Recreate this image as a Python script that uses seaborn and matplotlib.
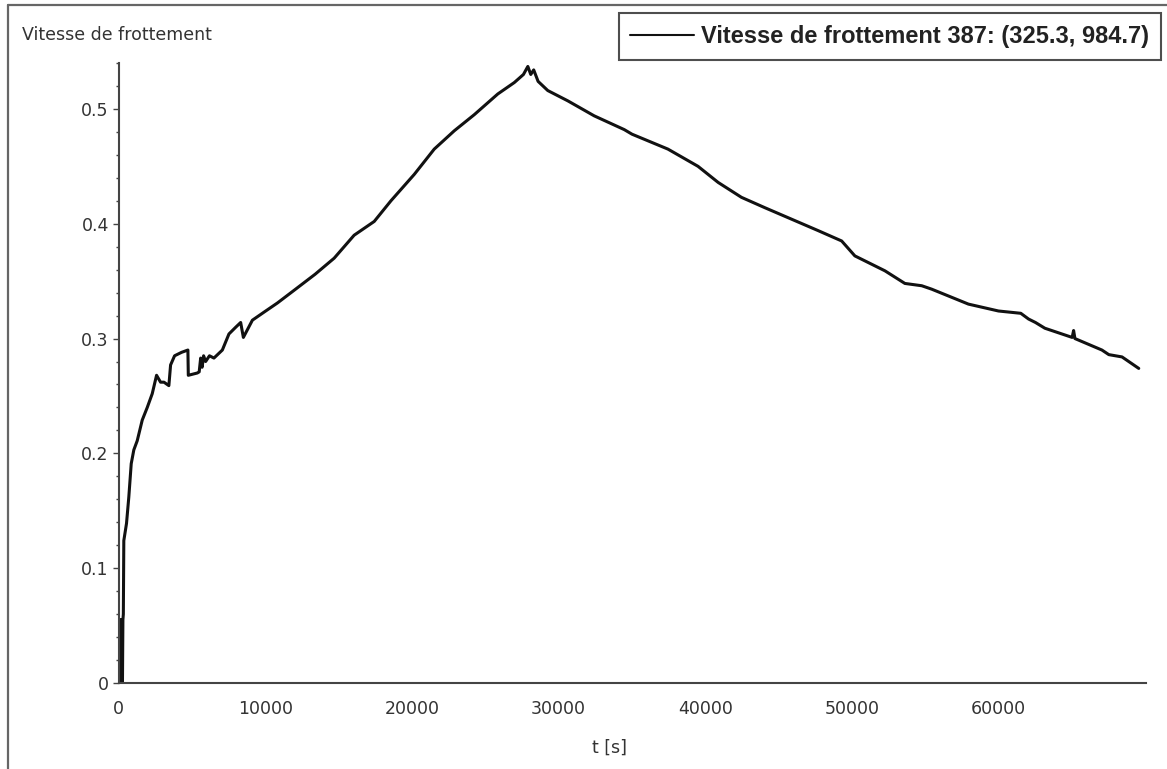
import matplotlib
matplotlib.use("Agg")
import matplotlib.pyplot as plt
from matplotlib.lines import Line2D
from matplotlib.ticker import MultipleLocator
import seaborn as sns
import pandas as pd

# ---- data ----
t_s = [0, 80, 110, 150, 190, 230, 270, 300, 330, 362, 546, 703, 867, 1044, 1276,
       1618, 1960, 2300, 2594, 2867, 3100, 3433, 3550, 3823, 4300, 4730, 4758,
       5372, 5500, 5600, 5700, 5800, 5938, 6200, 6505, 7078, 7528, 8000, 8327,
       8511, 9126, 9918, 10833, 11966, 13400, 14700, 16060, 17430, 18570, 20160,
       21520, 22890, 24250, 25850, 26980, 27600, 27900, 28100, 28300, 28600,
       29260, 30630, 32420, 34470, 35000, 37450, 39500, 40870, 42460, 44050,
       45870, 47690, 49290, 50190, 52240, 53600, 54750, 55430, 57930, 59980,
       61500, 62030, 62500, 63140, 65000, 65100, 65190, 67030, 67500, 68400,
       69540]
vitesse = [0.0, 0.055, 0.0, 0.055, 0.0, 0.055, 0.0, 0.055, 0.06, 0.124, 0.139,
           0.162, 0.191, 0.203, 0.211, 0.229, 0.240, 0.252, 0.268, 0.262, 0.262,
           0.259, 0.277, 0.285, 0.288, 0.290, 0.268, 0.270, 0.271, 0.283, 0.275,
           0.285, 0.280, 0.285, 0.283, 0.290, 0.304, 0.310, 0.314, 0.301, 0.316,
           0.323, 0.331, 0.342, 0.356, 0.370, 0.390, 0.402, 0.420, 0.443, 0.465,
           0.481, 0.495, 0.513, 0.523, 0.530, 0.537, 0.530, 0.534, 0.524, 0.516,
           0.507, 0.494, 0.482, 0.478, 0.465, 0.450, 0.436, 0.423, 0.414, 0.404,
           0.394, 0.385, 0.372, 0.359, 0.348, 0.346, 0.343, 0.330, 0.324, 0.322,
           0.317, 0.314, 0.309, 0.301, 0.307, 0.300, 0.290, 0.286, 0.284, 0.274]

x_ticks = [0, 10000, 20000, 30000, 40000, 50000, 60000]
x_tick_labels = ["0", "10000", "20000", "30000", "40000", "50000", "60000"]
y_ticks = [0, 0.1, 0.2, 0.3, 0.4, 0.5]
y_tick_labels = ["0", "0.1", "0.2", "0.3", "0.4", "0.5"]

series_label = "Vitesse de frottement 387: (325.3, 984.7)"
y_title = "Vitesse de frottement"
x_title = "t [s]"

df = pd.DataFrame({"t": t_s, "v": vitesse})

# ---- figure ----
sns.set_theme(style="white")
plt.rcParams["font.family"] = ["DejaVu Sans"]

W, H = 1167, 769
fig = plt.figure(figsize=(W / 100, H / 100), dpi=100)
fig.patch.set_facecolor("white")

left_px, right_px, top_px, bottom_px = 118.5, 1145.5, 63, 683
ax = fig.add_axes([left_px / W, 1 - bottom_px / H,
                   (right_px - left_px) / W, (bottom_px - top_px) / H])
ax.set_facecolor("white")

sns.lineplot(data=df, x="t", y="v", ax=ax, color="#111111", linewidth=2.2,
             sort=False, estimator=None, label=series_label)

ax.set_xlim(0, 70000)
ax.set_ylim(0, 0.54)

for s in ["top", "right"]:
    ax.spines[s].set_visible(False)
for s in ["left", "bottom"]:
    ax.spines[s].set_visible(True)
    ax.spines[s].set_color("#444444")
    ax.spines[s].set_linewidth(1.5)

ax.set_xticks(x_ticks)
ax.set_xticklabels(x_tick_labels)
ax.set_yticks(y_ticks)
ax.set_yticklabels(y_tick_labels)
ax.yaxis.set_minor_locator(MultipleLocator(0.02))

fs = 12.5
ax.tick_params(axis="x", which="both", length=0, pad=12, labelsize=fs,
               labelcolor="#333333")
ax.tick_params(axis="y", which="major", left=True, length=4, width=1,
               color="#444444", pad=3, labelsize=fs, labelcolor="#333333",
               direction="out")
ax.tick_params(axis="y", which="minor", left=True, length=2.2, width=1,
               color="#444444", direction="out")
ax.set_xlabel("")
ax.set_ylabel("")

fig.text(610 / W, 1 - 748 / H, x_title, ha="center", va="center",
         fontsize=fs, color="#333333")
fig.text(22 / W, 1 - 35 / H, y_title, ha="left", va="center",
         fontsize=fs, color="#333333")

leg = ax.legend(loc="upper right", bbox_to_anchor=(1161 / W, 1 - 13 / H),
                bbox_transform=fig.transFigure, borderaxespad=0,
                frameon=True, fancybox=False, shadow=False,
                handlelength=2.7, handletextpad=0.3, borderpad=0.5,
                prop={"family": ["Liberation Sans", "DejaVu Sans"],
                      "weight": "bold", "size": 17})
leg.get_frame().set_edgecolor("#222222")
leg.get_frame().set_linewidth(1.5)
for h in leg.get_lines():
    h.set_linewidth(1.5)
for txt in leg.get_texts():
    txt.set_color("#222222")

# outer frame (left and top edges)
fig.add_artist(Line2D([8 / W, 8 / W], [0, 1 - 5 / H], transform=fig.transFigure,
                      color="#666666", linewidth=1.6))
fig.add_artist(Line2D([8 / W, 1], [1 - 5 / H, 1 - 5 / H], transform=fig.transFigure,
                      color="#666666", linewidth=1.6))

fig.savefig("out.png", dpi=100, facecolor="white")
